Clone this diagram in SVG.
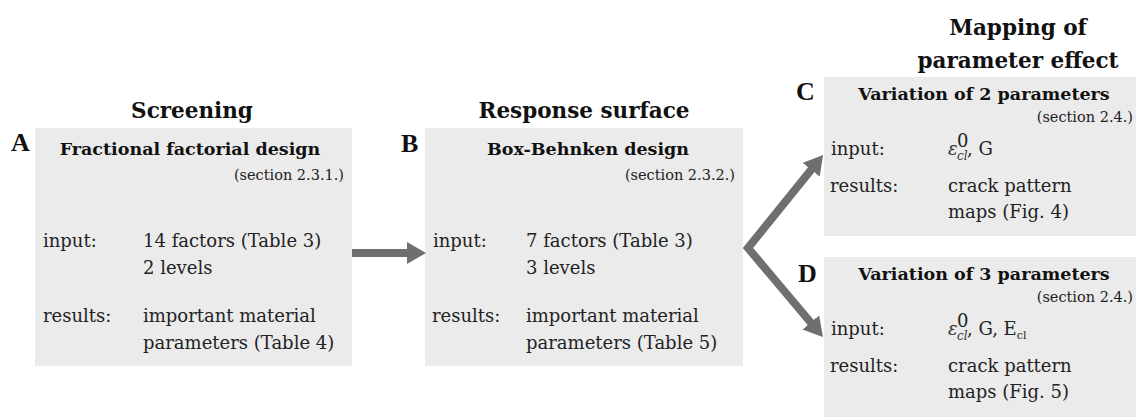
<svg xmlns="http://www.w3.org/2000/svg" width="1136" height="419" viewBox="0 0 1136 419">
<style>
.box{fill:#ebebeb}
.hdr{font-family:"DejaVu Serif","Liberation Serif",serif;font-weight:bold;font-size:21.5px;fill:#111;text-anchor:middle}
.lbl{font-family:"Liberation Serif",serif;font-weight:bold;font-size:26px;fill:#111}
.ttl{font-family:"DejaVu Serif","Liberation Serif",serif;font-weight:bold;font-size:17.5px;fill:#111;text-anchor:middle}
.sec{font-family:"DejaVu Serif","Liberation Serif",serif;font-size:14.5px;fill:#222;text-anchor:end}
.txt{font-family:"DejaVu Serif","Liberation Serif",serif;font-size:18px;fill:#222}
.eps{font-family:"DejaVu Serif","Liberation Serif",serif;font-style:italic;fill:#333}
.arr{fill:none;stroke:#6f6f6f;stroke-width:8;stroke-linejoin:miter;stroke-miterlimit:10}
</style>
<defs>
<marker id="head" markerUnits="userSpaceOnUse" markerWidth="20" markerHeight="22" refX="2" refY="11" orient="auto-start-reverse" viewBox="0 0 20 22">
<path d="M0,0 L19,11 L0,22 z" fill="#6f6f6f"/>
</marker>
</defs>

<text class="hdr" x="192" y="118">Screening</text>
<text class="hdr" x="584" y="118">Response surface</text>
<text class="hdr" x="1018" y="35">Mapping of</text>
<text class="hdr" x="1018" y="68">parameter effect</text>

<g id="nodeA">
<rect class="box" x="35" y="128" width="317" height="238"/>
<text class="lbl" x="11" y="151">A</text>
<text class="ttl" x="190" y="155">Fractional factorial design</text>
<text class="sec" x="344" y="180">(section 2.3.1.)</text>
<text class="txt" x="43" y="247">input:</text>
<text class="txt" x="143" y="247">14 factors (Table 3)</text>
<text class="txt" x="143" y="274">2 levels</text>
<text class="txt" x="43" y="322">results:</text>
<text class="txt" x="143" y="322">important material</text>
<text class="txt" x="143" y="349">parameters (Table 4)</text>
</g>

<g id="nodeB">
<rect class="box" x="425" y="128" width="318" height="238"/>
<text class="lbl" x="401" y="152">B</text>
<text class="ttl" x="588" y="155">Box-Behnken design</text>
<text class="sec" x="735" y="180">(section 2.3.2.)</text>
<text class="txt" x="433" y="247">input:</text>
<text class="txt" x="526" y="247">7 factors (Table 3)</text>
<text class="txt" x="526" y="274">3 levels</text>
<text class="txt" x="432" y="322">results:</text>
<text class="txt" x="526" y="322">important material</text>
<text class="txt" x="526" y="349">parameters (Table 5)</text>
</g>

<g id="nodeC">
<rect class="box" x="824" y="77" width="312" height="159"/>
<text class="lbl" x="796" y="100">C</text>
<text class="ttl" x="984" y="100">Variation of 2 parameters</text>
<text class="sec" x="1133" y="122">(section 2.4.)</text>
<text class="txt" x="831" y="155">input:</text>
<text class="eps" x="948" y="155" font-size="18px">ε</text>
<text class="txt" x="957" y="147" font-size="12px">0</text>
<text class="eps" x="957" y="160" font-size="12px">cl</text>
<text class="txt" x="967" y="155">, G</text>
<text class="txt" x="830" y="192">results:</text>
<text class="txt" x="948" y="192">crack pattern</text>
<text class="txt" x="948" y="218">maps (Fig. 4)</text>
</g>

<g id="nodeD">
<rect class="box" x="824" y="257" width="312" height="160"/>
<text class="lbl" x="798" y="282">D</text>
<text class="ttl" x="984" y="280">Variation of 3 parameters</text>
<text class="sec" x="1133" y="302">(section 2.4.)</text>
<text class="txt" x="831" y="335">input:</text>
<text class="eps" x="948" y="335" font-size="18px">ε</text>
<text class="txt" x="957" y="327" font-size="12px">0</text>
<text class="eps" x="957" y="340" font-size="12px">cl</text>
<text class="txt" x="967" y="335">, G, E<tspan dy="4" font-size="11px">cl</tspan></text>
<text class="txt" x="830" y="372">results:</text>
<text class="txt" x="948" y="372">crack pattern</text>
<text class="txt" x="948" y="398">maps (Fig. 5)</text>
</g>

<g id="connectors">
<line class="arr" x1="352" y1="253" x2="409" y2="253" marker-end="url(#head)"/>
<polyline class="arr" points="812.4,168.2 748,248 812,324" marker-start="url(#head)" marker-end="url(#head)"/>
</g>
</svg>
